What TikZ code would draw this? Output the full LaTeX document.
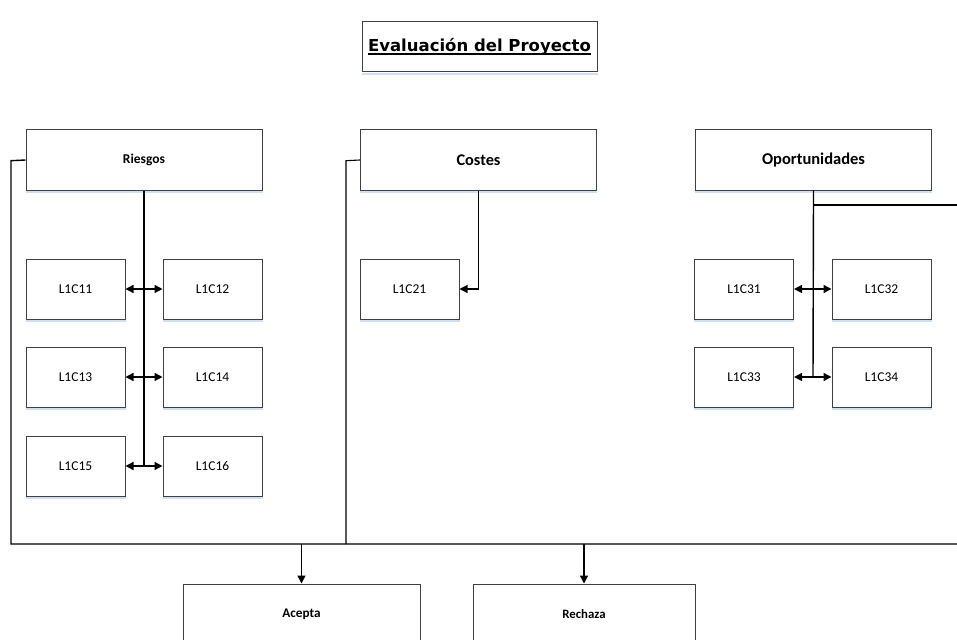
\documentclass[tikz,border=0pt]{standalone}
\usepackage{fontspec}
\setmainfont{Carlito}
\newfontfamily\titlefont{DejaVu Sans}
\usetikzlibrary{arrows.meta}
\definecolor{boxline}{HTML}{404040}
\definecolor{shadowblue}{HTML}{CFE0F2}
\newsavebox{\ttlbox}
\newcommand{\thickul}[1]{\sbox{\ttlbox}{#1}\rlap{\usebox{\ttlbox}}\rule[-3pt]{\wd\ttlbox}{1.6pt}}
\tikzset{
  bigbox/.style={draw=boxline, line width=1pt, fill=white, minimum width=236pt, minimum height=60pt, inner sep=0pt, font=\fontsize{13.5}{15}\selectfont\bfseries},
  smallbox/.style={draw=boxline, line width=1pt, fill=white, minimum width=99pt, minimum height=60pt, inner sep=0pt, font=\fontsize{13.5}{15}\selectfont},
  conn/.style={draw=black, line width=1.4pt},
  thinconn/.style={draw=black, line width=1.1pt},
  arr/.style={conn, -{Triangle[length=8pt, width=8pt]}},
  darr/.style={conn, {Triangle[length=8pt, width=8pt]}-{Triangle[length=8pt, width=8pt]}},
  shadowline/.style={draw=shadowblue, line width=2pt}
}
\begin{document}
\begin{tikzpicture}[x=1pt, y=-1pt]
\useasboundingbox (0,0) rectangle (957,639);
\clip (0,0) rectangle (957,639);
\fill[white] (0,0) rectangle (957,639);
% title
\node[draw=boxline, line width=1pt, minimum width=235pt, minimum height=50pt, inner sep=0pt] (title) at (479.5,47) {\titlefont\bfseries\fontsize{16.5}{18}\selectfont\thickul{Evaluación del Proyecto}};
% main boxes
\node[bigbox, font=\fontsize{13.5}{15}\selectfont\bfseries] (ries) at (144,160) {Riesgos};
\node[bigbox, font=\fontsize{16.3}{18}\selectfont\bfseries] (cost) at (478.5,160) {Costes};
\node[bigbox, font=\fontsize{16.5}{18}\selectfont\bfseries] (opor) at (813.5,160) {Oportunidades};
% small boxes
\node[smallbox] (c11) at (75.5,289) {L1C11};
\node[smallbox] (c12) at (212.5,289) {L1C12};
\node[smallbox] (c13) at (75.5,377) {L1C13};
\node[smallbox] (c14) at (212.5,377) {L1C14};
\node[smallbox] (c15) at (75.5,466) {L1C15};
\node[smallbox] (c16) at (212.5,466) {L1C16};
\node[smallbox] (c21) at (409.5,289) {L1C21};
\node[smallbox] (c31) at (744,289) {L1C31};
\node[smallbox] (c32) at (881.5,289) {L1C32};
\node[smallbox] (c33) at (744,377) {L1C33};
\node[smallbox] (c34) at (881.5,377) {L1C34};
% bottom boxes
\node[bigbox, minimum width=237pt, font=\fontsize{13.2}{15}\selectfont\bfseries] (acep) at (301.5,614) {Acepta};
\node[bigbox, minimum width=222pt, font=\fontsize{12.8}{14}\selectfont\bfseries] (rech) at (584,614) {Rechaza};
% shadows
\foreach \n in {title,ries,cost,opor,c11,c12,c13,c14,c15,c16,c21,c31,c32,c33,c34}
  \draw[shadowline] ([yshift=-1.8pt]\n.south west) -- ([yshift=-1.8pt]\n.south east);
% coordinates
\coordinate (rbot) at (144,466);
\coordinate (obot) at (813,377);
\coordinate (ol) at (11,160.7);
\coordinate (olb) at (11,544);
\coordinate (cl) at (346,160.7);
\coordinate (clb) at (346,544);
\coordinate (bre) at (957,544);
\coordinate (ore) at (957,205);
\coordinate (ojn) at (813,205);
\coordinate (aj) at (301.5,544);
\coordinate (rj) at (584,544);
% Riesgos tree
\draw[conn] (ries.south) -- (rbot);
\draw[darr] (c11.east) -- (c12.west);
\draw[darr] (c13.east) -- (c14.west);
\draw[darr] (c15.east) -- (c16.west);
% Costes
\draw[thinconn, -{Triangle[length=8pt, width=8pt]}] (cost.south) |- (c21.east);
% Oportunidades
\draw[conn] (opor.south) -- (obot);
\draw[thinconn] (ojn) -- (ore);
\draw[darr] (c31.east) -- (c32.west);
\draw[darr] (c33.east) -- (c34.west);
% outer lines
\draw[conn] (ries.west) -- (ol) -- (olb) -- (bre);
\draw[thinconn] (cost.west) -- (cl) -- (clb);
\draw[arr] (aj) -- (acep.north);
\draw[arr] (rj) -- (rech.north);
\end{tikzpicture}
\end{document}
